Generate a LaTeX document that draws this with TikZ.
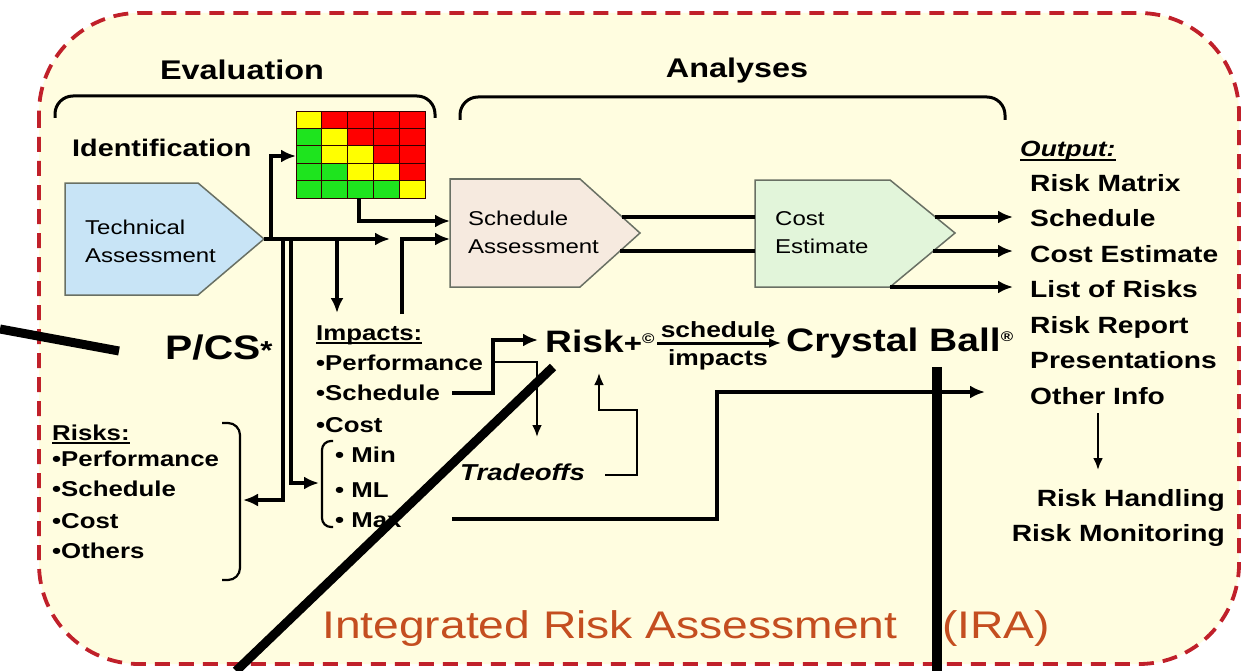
\documentclass[tikz,border=0pt]{standalone}
\usepackage{fontspec}
\setmainfont{Liberation Sans}[FakeStretch=1.2]
\usetikzlibrary{arrows.meta}
\definecolor{cream}{RGB}{255,253,224}
\definecolor{dashred}{RGB}{192,32,42}
\definecolor{techfill}{RGB}{200,228,246}
\definecolor{schedfill}{RGB}{246,234,223}
\definecolor{costfill}{RGB}{226,245,218}
\definecolor{boxline}{RGB}{105,112,100}
\definecolor{mred}{RGB}{255,0,0}
\definecolor{myel}{RGB}{255,255,0}
\definecolor{mgrn}{RGB}{30,228,30}
\definecolor{titlecol}{RGB}{196,78,32}
\newcommand\fs[1]{\fontsize{#1}{#1}\selectfont}
\newcommand\myul[1]{\setbox0\hbox{#1}\rlap{\rule[-4pt]{\wd0}{2pt}}\box0}
\begin{document}
\begin{tikzpicture}[x=1pt,y=-1pt,
  lbl/.style={inner sep=0pt,anchor=base west,font=\bfseries},
  reg/.style={inner sep=0pt,anchor=base west},
  conn/.style={line width=4pt,-{Latex[length=15pt,width=13pt]}},
  seg/.style={line width=4pt},
  thinar/.style={line width=2.6pt,-{Latex[length=12pt,width=10pt]}},
  brk/.style={line width=3pt,rounded corners=18pt},
  sbrk/.style={line width=2.2pt,rounded corners=12pt},
  shapebox/.style={draw=boxline,line width=1.5pt},
  leader/.style={line width=9pt},
  cell/.style={draw=black!80!red,line width=0.9pt},
]
\useasboundingbox (0,0) rectangle (1246,671);
\fill[white] (0,0) rectangle (1246,671);
\draw[dashred,line width=3.8pt,dash pattern=on 15pt off 9pt,fill=cream,rounded corners=100pt] (39,13) rectangle (1239,664);

% headers and brackets
\node[lbl,anchor=base] (eval) at (242,80) {\fs{27}Evaluation};
\node[lbl,anchor=base] (analy) at (737,78) {\fs{27}Analyses};
\draw[brk] (55,118) -- (55,96) -- (435,96) -- (435,118);
\draw[brk] (460,120) -- (460,97) -- (1005,97) -- (1005,120);

\node[lbl] (ident) at (72,157) {\fs{24}Identification};

% risk matrix
\node[inner sep=0pt,minimum width=129pt,minimum height=87pt,anchor=north west] (mtx) at (296,111) {};
\foreach \i/\j/\cl in {0/0/myel,1/0/mred,2/0/mred,3/0/mred,4/0/mred,
 0/1/mgrn,1/1/myel,2/1/mred,3/1/mred,4/1/mred,
 0/2/mgrn,1/2/myel,2/2/myel,3/2/mred,4/2/mred,
 0/3/mgrn,1/3/mgrn,2/3/myel,3/3/myel,4/3/mred,
 0/4/mgrn,1/4/mgrn,2/4/mgrn,3/4/mgrn,4/4/myel}
 \filldraw[cell,fill=\cl] (296+25.8*\i,111+17.4*\j) rectangle ++(25.8,17.4);

% boxes
\draw[shapebox,fill=techfill] (65,183) -- (198,183) -- (264,239) -- (198,295) -- (65,295) -- cycle;
\coordinate (techtip) at (264,239);
\node[reg] (tech1) at (85,234) {\fs{20}Technical};
\node[reg] (tech2) at (85,262) {\fs{20}Assessment};

\draw[shapebox,fill=schedfill] (450,179) -- (580,179) -- (640,233) -- (580,287) -- (450,287) -- cycle;
\coordinate (schedW1) at (450,221);
\coordinate (schedW2) at (450,239);
\node[reg] (sched1) at (468,225) {\fs{20}Schedule};
\node[reg] (sched2) at (468,253) {\fs{20}Assessment};

\draw[shapebox,fill=costfill] (755,180) -- (890,180) -- (955,233) -- (890,287) -- (755,287) -- cycle;
\node[reg] (cost1) at (775,225) {\fs{20}Cost};
\node[reg] (cost2) at (775,253) {\fs{20}Estimate};

% output list
\node[lbl] (outh) at (1020,157) {\fs{22}\itshape\myul{Output:}};
\node[lbl] (out1) at (1030,191) {\fs{23.5}Risk Matrix};
\node[lbl] (out2) at (1030,226) {\fs{23.5}Schedule};
\node[lbl] (out3) at (1030,262) {\fs{23.5}Cost Estimate};
\node[lbl] (out4) at (1030,297) {\fs{23.5}List of Risks};
\node[lbl] (out5) at (1030,333) {\fs{23.5}Risk Report};
\node[lbl] (out6) at (1030,368) {\fs{23.5}Presentations};
\node[lbl] (out7) at (1030,404) {\fs{23.5}Other Info};
\node[lbl,anchor=base east] (handl) at (1225,506) {\fs{23.5}Risk Handling};
\node[lbl,anchor=base east] (monit) at (1225,541) {\fs{23.5}Risk Monitoring};

% P/CS and risks
\node[lbl] (pcs) at (165,359) {\fs{34}P/CS{\fs{26}*}};
\node[lbl] (risksh) at (52,440) {\fs{21.5}\myul{Risks:}};
\node[lbl] (r1) at (52,466) {\fs{21.5}•Performance};
\node[lbl] (r2) at (52,496) {\fs{21.5}•Schedule};
\node[lbl] (r3) at (52,528) {\fs{21.5}•Cost};
\node[lbl] (r4) at (52,558) {\fs{21.5}•Others};
\draw[sbrk] (222,423) -- (240,423) -- (240,580) -- (222,580);
\coordinate (risksbr) at (243,500);

% impacts
\node[lbl] (imph) at (316,340) {\fs{21.5}\myul{Impacts:}};
\node[lbl] (i1) at (316,370) {\fs{21.5}•Performance};
\node[lbl] (i2) at (316,400) {\fs{21.5}•Schedule};
\node[lbl] (i3) at (316,432) {\fs{21.5}•Cost};
\node[lbl] (i4) at (335,462) {\fs{21.5}• Min};
\node[lbl] (i5) at (335,497) {\fs{21.5}• ML};
\node[lbl] (i6) at (335,527) {\fs{21.5}• Max};
\draw[sbrk,rounded corners=9pt] (333,441) -- (322,441) -- (322,527) -- (333,527);
\coordinate (impbr) at (319,483);

\node[lbl] (trade) at (460,480) {\fs{23}\itshape Tradeoffs};
\node[lbl] (riskplus) at (545,352) {\fs{31}Risk{\fs{26}+}\raisebox{9pt}{\fs{14}©}};
\node[lbl,anchor=base] (schedlbl) at (718,337) {\fs{22}schedule};
\node[lbl,anchor=base] (implbl) at (718,365) {\fs{22}impacts};
\node[lbl] (crystal) at (786,351) {\fs{32.5}Crystal Ball\raisebox{10pt}{\fs{14}®}};

% connectors
\draw[conn] (techtip) -- (390,239);
\draw[conn] (271,239) |- (mtx.west |- 0,156);
\draw[conn] (359,198) |- (schedW1);
\draw[conn] (402,314) |- (schedW2);
\draw[conn] (337,239) -- (337,313);
\draw[conn] (283,239) |- (risksbr);
\draw[conn] (291,239) |- (impbr);

\draw[conn] (452,393) -- (493,393) -- (493,340) -- (538,340);
\draw[thinar] (493,362) -- (537,362) -- (537,437);
\draw[thinar] (605,475) -- (637,475) -- (637,410) -- (599,410) -- (599,373);
\draw[conn] (452,519) -- (717,519) -- (717,392) -- (985,392);

\draw[seg] (622,217) -- (755,217);
\draw[seg] (620,251) -- (755,251);
\draw[conn] (935,217) -- (1013,217);
\draw[conn] (933,251) -- (1013,251);
\draw[conn] (890,287) -- (1013,287);
\draw[thinar] (1098,413) -- (1098,470);
\draw[line width=3pt,-{Latex[length=12pt,width=10pt]}] (657,343) -- (781,343);

% title
\node[reg,text=titlecol] (title) at (322,638) {\fs{38.5}Integrated Risk Assessment\hspace{32pt} (IRA)};

% leader lines
\draw[leader] (0,329) -- (119,351);
\draw[leader] (553,367) -- (236,671);
\draw[leader,line width=10pt] (937,367) -- (937,671);
\end{tikzpicture}
\end{document}
